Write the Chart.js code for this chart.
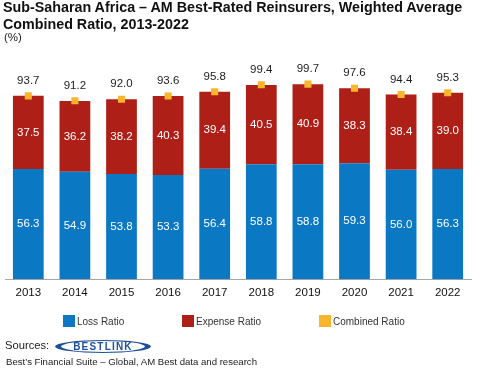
<!DOCTYPE html>
<html>
<head>
<meta charset="utf-8">
<script src="https://cdn.jsdelivr.net/npm/chart.js@4.4.1/dist/chart.umd.min.js"></script>
<style>
  html, body { margin: 0; padding: 0; background: #fff; }
  body { width: 480px; height: 379px; position: relative; overflow: hidden; font-family: "Liberation Sans", Arial, sans-serif; color: #111; }
  #wrap { position: absolute; left: 0; top: 0; width: 480px; height: 379px; }
  .t { position: absolute; white-space: nowrap; z-index: 2; }
  #title { left: 3px; top: -1px; font-weight: bold; font-size: 14.3px; line-height: 16.5px; color: #111; }
  #unit { left: 4px; top: 31px; font-size: 11.5px; color: #222; }
  .leg { position: absolute; top: 315px; font-size: 10px; color: #333; z-index: 2; white-space: nowrap; }
  .leg i { position: absolute; left: 0; top: 0; width: 12px; height: 12px; }
  .leg span { position: absolute; left: 14px; top: 0; line-height: 13px; }
  #src { left: 5px; top: 339px; font-size: 11.2px; color: #222; }
  #logo { position: absolute; left: 55px; top: 340px; width: 96px; height: 13px; border: 1px solid #1d4f9a; border-left: 6px solid #1d4f9a; border-right: 6px solid #1d4f9a; border-radius: 50%; box-sizing: border-box; text-align: center; font-weight: bold; font-size: 10px; line-height: 11px; letter-spacing: 1.2px; color: #1d4f9a; z-index: 2; }
  #foot { left: 6px; top: 356px; font-size: 9.6px; color: #222; }
</style>
</head>
<body>
<div id="wrap"><canvas id="c" width="480" height="379"></canvas></div>
<div class="t" id="title">Sub-Saharan Africa – AM Best-Rated Reinsurers, Weighted Average<br>Combined Ratio, 2013-2022</div>
<div class="t" id="unit">(%)</div>
<div class="leg" style="left:63px;"><i style="background:#0b78c3"></i><span>Loss Ratio</span></div>
<div class="leg" style="left:182px;"><i style="background:#ae1f17"></i><span>Expense Ratio</span></div>
<div class="leg" style="left:319px;"><i style="background:#f9b52b"></i><span>Combined Ratio</span></div>
<div class="t" id="src">Sources:</div>
<div id="logo">BESTLINK</div>
<div class="t" id="foot">Best’s Financial Suite – Global, AM Best data and research</div>
<script>
const years = ['2013','2014','2015','2016','2017','2018','2019','2020','2021','2022'];
const lossRatio = [56.3, 54.9, 53.8, 53.3, 56.4, 58.8, 58.8, 59.3, 56.0, 56.3];
const expenseRatio = [37.5, 36.2, 38.2, 40.3, 39.4, 40.5, 40.9, 38.3, 38.4, 39.0];
const combinedRatio = [93.7, 91.2, 92.0, 93.6, 95.8, 99.4, 99.7, 97.6, 94.4, 95.3];

const FONT = '"Liberation Sans", Arial, sans-serif';

const labelPlugin = {
  id: 'valueLabels',
  afterDatasetsDraw(chart) {
    const ctx = chart.ctx;
    ctx.save();
    ctx.font = '11.5px ' + FONT;
    ctx.textAlign = 'center';
    ctx.textBaseline = 'middle';
    chart.data.datasets.forEach((ds, di) => {
      const meta = chart.getDatasetMeta(di);
      meta.data.forEach((el, i) => {
        const v = ds.data[i];
        const txt = v.toFixed(1);
        if (ds.type === 'line') {
          ctx.fillStyle = '#222';
          ctx.fillText(txt, el.x, el.y - 15);
        } else {
          const p = el.getProps(['x', 'y', 'base'], true);
          ctx.fillStyle = '#fff';
          ctx.fillText(txt, p.x, (p.y + p.base) / 2);
        }
      });
    });
    ctx.restore();
  }
};

new Chart(document.getElementById('c'), {
  data: {
    labels: years,
    datasets: [
      { type: 'line', label: 'Combined Ratio', data: combinedRatio, stack: 'c', order: 0,
        showLine: false, pointStyle: 'rect', pointRadius: 5, pointHoverRadius: 5,
        pointBackgroundColor: '#f9b52b', pointBorderWidth: 0, borderColor: '#f9b52b' },
      { type: 'bar', label: 'Loss Ratio', data: lossRatio, stack: 's', order: 1,
        backgroundColor: '#0b78c3', barPercentage: 0.66, categoryPercentage: 1 },
      { type: 'bar', label: 'Expense Ratio', data: expenseRatio, stack: 's', order: 1,
        backgroundColor: '#ae1f17', barPercentage: 0.66, categoryPercentage: 1 }
    ]
  },
  options: {
    responsive: false,
    animation: false,
    layout: { padding: { left: 3, right: 9, top: 64, bottom: 72 } },
    plugins: { legend: { display: false }, tooltip: { enabled: false } },
    scales: {
      x: {
        stacked: true,
        offset: true,
        grid: { display: false, drawTicks: false },
        border: { display: true, color: '#a6a6a6', width: 1 },
        ticks: { color: '#111', padding: 7, font: { size: 11.5, family: FONT } }
      },
      y: {
        stacked: true,
        display: false,
        min: 0, max: 110
      }
    }
  },
  plugins: [labelPlugin]
});
</script>
</body>
</html>
